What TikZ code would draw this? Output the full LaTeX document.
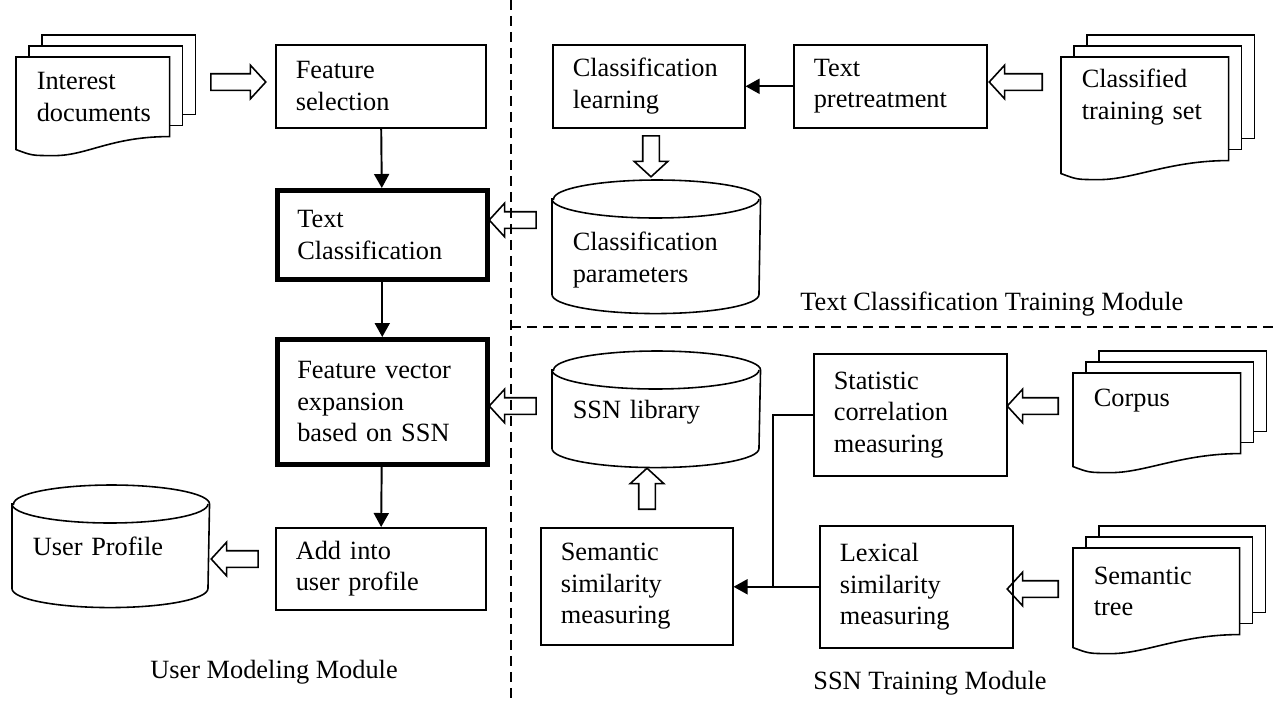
\documentclass[tikz,border=0pt]{standalone}
\usepackage{fontspec}
\setmainfont{Liberation Serif}
\usepackage{tikz}
\usetikzlibrary{shapes.arrows,arrows.meta,calc,backgrounds}
\tikzset{
  bloco/.style={rectangle, draw, line width=0.9pt, fill=white, anchor=north west,
                inner xsep=0.4cm, inner ysep=0pt, align=left,
                font=\fontsize{15pt}{18pt}\selectfont},
  destaque/.style={bloco, line width=2.6pt},
  papel/.style={bloco, draw=none, fill=none},
  seta/.style={-{Triangle[length=0.28cm, width=0.3cm]}, line width=1.1pt},
  setaoca/.style={single arrow, draw, line width=0.9pt, minimum height=#1,
                  inner xsep=0pt, inner ysep=0.15cm, text height=0pt, text depth=0pt,
                  single arrow head extend=0.17cm, single arrow tip angle=95,
                  single arrow head indent=0pt},
  divisoria/.style={dash pattern=on 0.2cm off 0.12cm, line width=0.6pt},
  rotulo/.style={inner sep=0pt, anchor=base west, font=\fontsize{15pt}{18pt}\selectfont},
}
% pilha de documentos atras do no #1 (#2 = prolongamento da folha da frente)
\newcommand{\pilhadoc}[2]{%
  \begin{scope}[on background layer]
    \foreach \d in {2,1}
      \draw[line width=0.9pt, fill=white] ([shift={(13*\d,-11*\d)}]#1.north west)
        rectangle ([shift={(13*\d,-11*\d+#2)}]#1.south east);
    \draw[line width=0.9pt, fill=white] (#1.north west) -- (#1.north east)
      -- ([shift={(0,#2)}]#1.south east)
      .. controls ([shift={(-60,#2)}]#1.south east) and ([shift={(70,#2+20)}]#1.south west)
      .. ([shift={(36,#2+19)}]#1.south west)
      .. controls ([shift={(16,#2+19)}]#1.south west) .. ([shift={(0,#2+13)}]#1.south west)
      -- cycle;
  \end{scope}}
% cilindro em volta do no #1 (#2 = meia largura, #3 = subida da tampa)
\newcommand{\cilindro}[3]{%
  \begin{scope}[on background layer]
    \draw[line width=0.9pt, fill=white] ([shift={(0,-#3)}]#1.north west) -- (#1.south west)
      arc[start angle=180, end angle=360, x radius=#2, y radius=0.38cm]
      -- ([shift={(0,-#3)}]#1.north east)
      arc[start angle=0, end angle=180, x radius=#2, y radius=0.38cm] -- cycle;
    \draw[line width=0.9pt] ([shift={(0,-#3)}]#1.north west)
      arc[start angle=180, end angle=360, x radius=#2, y radius=0.38cm];
  \end{scope}}

\begin{document}
\begin{tikzpicture}[x=0.02cm, y=-0.02cm]
  \useasboundingbox (0,0) rectangle (1273,700);

  \node[papel, text width=2.24cm, minimum height=1.56cm] (int) at (16,57) {Interest\\documents};
  \pilhadoc{int}{0}
  \node[bloco, text width=3.4cm, minimum height=1.66cm] (fs) at (275,44) {Feature\\selection};
  \node[destaque, text width=3.4cm, minimum height=1.78cm] (tc) at (275,188) {Text\\Classification};
  \node[destaque, text width=3.4cm, minimum height=2.5cm] (fv) at (275,337)
       {Feature vector\\expansion\\based on SSN};
  \node[bloco, text width=3.4cm, minimum height=1.64cm] (ad) at (275,527) {Add into\\user profile};
  \node[papel, text width=3.12cm, minimum height=1.64cm] (up) at (12,505) {User Profile};
  \cilindro{up}{1.96cm}{1}

  \node[bloco, text width=3.04cm, minimum height=1.66cm] (cl) at (552,44) {Classification\\learning};
  \node[bloco, text width=3.06cm, minimum height=1.66cm] (tp) at (793,44) {Text\\pretreatment};
  \node[papel, text width=2.52cm, minimum height=1.58cm] (cts) at (1061,57) {Classified\\training set};
  \pilhadoc{cts}{23}
  \node[papel, text width=3.34cm, minimum height=1.36cm] (cp) at (552,225) {Classification\\parameters};
  \cilindro{cp}{2.07cm}{26}

  \node[papel, text width=3.34cm, minimum height=1.44cm] (ssn) at (552,375) {SSN library};
  \cilindro{ssn}{2.07cm}{5}
  \node[bloco, text width=3.04cm, minimum height=2.34cm] (sem) at (540,527)
       {Semantic\\similarity\\measuring};
  \node[bloco, text width=3.06cm, minimum height=2.44cm] (st) at (813,353)
       {Statistic\\correlation\\measuring};
  \node[bloco, text width=3.06cm, minimum height=2.44cm] (lex) at (819,525)
       {Lexical\\similarity\\measuring};
  \node[papel, text width=2.52cm, minimum height=1.06cm] (corp) at (1073,373) {Corpus};
  \pilhadoc{corp}{26}
  \node[papel, text width=2.5cm, minimum height=1.7cm] (arv) at (1073,548) {Semantic\\tree};
  \pilhadoc{arv}{0}

  \node[setaoca=1.1cm] (s1) at (234.5,82) {};
  \node[setaoca=1.06cm, rotate=180] (s2) at (1019.5,82) {};
  \node[setaoca=0.82cm, rotate=-90] (s3) at (651,152.5) {};
  \node[setaoca=0.94cm, rotate=180] (s4) at (516.5,220) {};
  \node[setaoca=0.94cm, rotate=180] (s5) at (516.5,406) {};
  \node[setaoca=0.82cm, rotate=90] (s6) at (647,492.5) {};
  \node[setaoca=1.02cm, rotate=180] (s7) at (1036.5,406) {};
  \node[setaoca=1.02cm, rotate=180] (s8) at (1036.5,589) {};
  \node[setaoca=0.94cm, rotate=180] (s9) at (238.5,559) {};

  \draw[seta] (fs) -- (tc);
  \draw[seta] (tc) -- (fv);
  \draw[seta] (fv) -- (ad);
  \draw[seta] (tp) -- (cl);
  \draw[seta] (lex.west) -- (sem.east |- lex.west);
  \coordinate (j) at ([xshift=-0.92cm]lex.west);
  \draw[line width=1.1pt] (st.west) -| (j);

  \draw[divisoria] (511,0) -- (511,700);
  \draw[divisoria] (511,327) -- (1273,327);

  \node[rotulo] (umm) at (150,678) {User Modeling Module};
  \node[rotulo] (tctm) at (800,310) {Text Classification Training Module};
  \node[rotulo] (sstm) at (813,689) {SSN Training Module};
\end{tikzpicture}
\end{document}
